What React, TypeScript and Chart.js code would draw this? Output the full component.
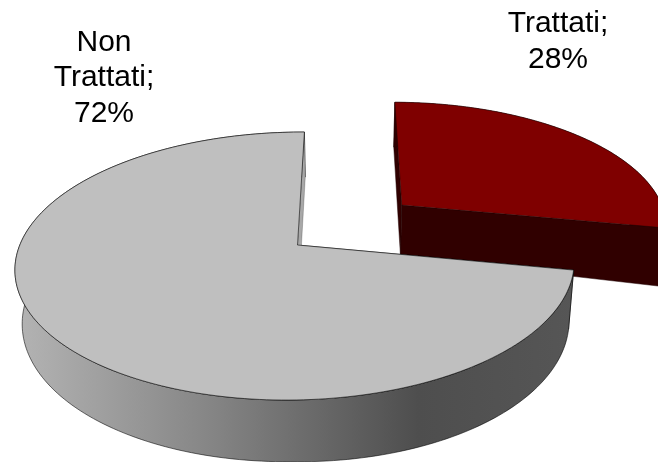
import React, { useEffect, useRef } from "react";
import { Chart, registerables } from "chart.js";

Chart.register(...registerables);

const categories = ["Trattati", "Non Trattati"];
const shares = [28, 72];
const sliceColors = ["#7f0000", "#bfbfbf"];
const sliceOffsets = [93, 0];
const labelCenters = [[558, 32], [104, 50.5]];

const H = { x0: 297.5, y0: 245, ax: 276, ay: 130.7, s: -8, t: 0, k: 0.157, m: 0.006, depth: 52, grow: 0.11, xv: 345, conv: 0.022 };

function project(u: number, v: number, low: boolean) {
  const w = 1 - H.k * v + H.m * u;
  let x = H.x0 + (H.ax * u + H.s * v) / w;
  let y = H.y0 + (H.ay * v + H.t * u) / w;
  if (low) {
    x += (H.xv - x) * H.conv;
    y += (H.depth * (1 + H.grow * Math.max(u, 0))) / w;
  }
  return [x, y];
}

const piePlugin = {
  id: "pie3d",
  beforeDatasetsDraw(chart: any) {
    const ctx: CanvasRenderingContext2D = chart.ctx;
    const arcs = chart.getDatasetMeta(0).data;
    const R = arcs[0].outerRadius;
    const grad = ctx.createLinearGradient(15, 0, 575, 0);
    grad.addColorStop(0, "#b4b4b4");
    grad.addColorStop(0.35, "#858585");
    grad.addColorStop(0.72, "#4e4e4e");
    grad.addColorStop(1, "#565656");
    const wallStyles = [
      { radial: "#300000", outer: "#300000", line: "rgba(30,0,0,0.6)" },
      { radial: "#a8a8a8", outer: grad, line: "rgba(0,0,0,0.7)" },
    ];
    arcs.forEach((arc: any, i: number) => {
      const off = (arc.options.offset || 0) / R;
      const mid = (arc.startAngle + arc.endAngle) / 2;
      const ou = off * Math.cos(mid);
      const ov = off * Math.sin(mid);
      const pts = (low: boolean) => {
        const list: number[][] = [];
        const n = 200;
        for (let j = 0; j <= n; j++) {
          const a = arc.startAngle + ((arc.endAngle - arc.startAngle) * j) / n;
          list.push(project(ou + Math.cos(a), ov + Math.sin(a), low));
        }
        return list;
      };
      const upper = pts(false);
      const lower = pts(true);
      const apexT = project(ou, ov, false);
      const apexB = project(ou, ov, true);
      const path = (list: number[][], color: any, line: string | null) => {
        ctx.beginPath();
        list.forEach((p, idx) => (idx ? ctx.lineTo(p[0], p[1]) : ctx.moveTo(p[0], p[1])));
        ctx.closePath();
        ctx.fillStyle = color;
        ctx.fill();
        if (line) {
          ctx.strokeStyle = line;
          ctx.lineWidth = 0.8;
          ctx.stroke();
        }
      };
      const last = upper.length - 1;
      const l = wallStyles[i].line;
      path([apexT, upper[0], lower[0], apexB], wallStyles[i].radial, l);
      path([...upper, ...lower.slice().reverse()], wallStyles[i].outer, l);
      path([apexT, upper[last], lower[last], apexB], wallStyles[i].radial, i === 0 ? l : "rgba(0,0,0,0.25)");
      path([apexT, ...upper], arc.options.backgroundColor, l);
    });
    ctx.textAlign = "center";
    ctx.textBaseline = "alphabetic";
    ctx.font = '30px "Liberation Sans"';
    ctx.fillStyle = "#000";
    categories.forEach((cat, i) => {
      const words = cat.split(" ");
      const lines = [...words.slice(0, -1), words[words.length - 1] + ";", shares[i] + "%"];
      lines.forEach((ln, idx) => {
        ctx.fillText(ln, labelCenters[i][0], labelCenters[i][1] + idx * 35.5);
      });
    });
    return false;
  },
};

export default function App() {
  const ref = useRef<HTMLCanvasElement>(null);
  useEffect(() => {
    document.body.style.margin = "0";
    const chart = new Chart(ref.current!, {
      type: "pie",
      data: {
        labels: categories,
        datasets: [{ data: shares, backgroundColor: sliceColors, offset: sliceOffsets, borderWidth: 0 }],
      },
      options: {
        responsive: false,
        animation: false,
        devicePixelRatio: 1,
        plugins: { legend: { display: false }, tooltip: { enabled: false } },
      },
      plugins: [piePlugin],
    } as any);
    return () => chart.destroy();
  }, []);
  return <canvas ref={ref} width={658} height={462} style={{ display: "block" }} />;
}
